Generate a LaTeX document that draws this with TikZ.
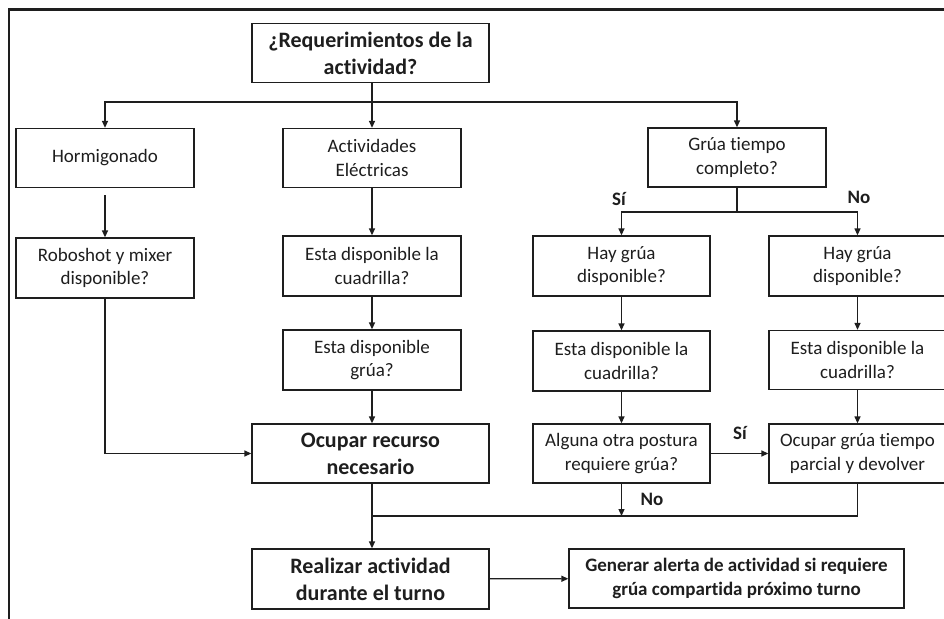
\documentclass[tikz,border=0pt]{standalone}
\usepackage{fontspec}
\setmainfont{Carlito}[RawFeature={-liga;-clig;-calt;-dlig}]
\usetikzlibrary{arrows.meta}
\definecolor{ink}{HTML}{1E1E1E}
\tikzset{
  box/.style={draw=ink, line width=1.3pt, inner sep=0pt, align=center,
    text=ink, font=\fontsize{19}{23.5}\selectfont,
    minimum width=178pt, minimum height=59pt},
  wide/.style={box, minimum width=237pt, font=\bfseries\fontsize{22}{27}\selectfont},
  lbl/.style={text=ink, inner sep=0pt, font=\bfseries\fontsize{19}{23}\selectfont},
  link/.style={draw=ink, line width=1.3pt},
  arr/.style={link, -{Triangle[length=7pt,width=6pt]}}
}
\begin{document}
\begin{tikzpicture}[x=1pt,y=-1pt]
\useasboundingbox (0,0) rectangle (944,618);
\fill[white] (0,0) rectangle (944,618);
% frame
\draw[ink, line width=2.2pt] (9,640) -- (9,9.5) -- (960,9.5);

% boxes
\node[wide] (req) at (370.5,53) {¿Requerimientos de la\\actividad?};
\node[box] (horm) at (105,158) {Hormigonado};
\node[box] (elec) at (372,158) {Actividades\\Eléctricas};
\node[box] (gtc) at (737,157.5) {Grúa tiempo\\completo?};
\node[box, minimum height=60pt] (robo) at (105,268) {Roboshot y mixer\\disponible?};
\node[box, minimum height=60pt] (cuad1) at (372,266) {Esta disponible la\\cuadrilla?};
\node[box, minimum height=60pt] (grua1) at (372,360) {Esta disponible\\grúa?};
\node[wide] (ocup) at (370.5,453.5) {Ocupar recurso\\necesario};
\node[wide, minimum height=60pt] (real) at (370.5,579) {Realizar actividad\\durante el turno};
\node[box, minimum width=177pt, minimum height=60pt] (hay1) at (621.5,266) {Hay grúa\\disponible?};
\node[box, minimum width=177pt, minimum height=60pt] (hay2) at (857.5,266) {Hay grúa\\disponible?};
\node[box, minimum width=177pt, minimum height=60pt] (cuad2) at (621.5,361) {Esta disponible la\\cuadrilla?};
\node[box, minimum width=177pt] (cuad3) at (857.5,360) {Esta disponible la\\cuadrilla?};
\node[box, minimum width=177pt] (alg) at (621.5,453.5) {Alguna otra postura\\requiere grúa?};
\node[box, minimum width=177pt] (parc) at (857.5,453.5) {Ocupar grúa tiempo\\parcial y devolver};
\node[box, minimum width=335pt, font=\bfseries\fontsize{19}{24}\selectfont] (alerta) at (736.5,578.5) {Generar alerta de actividad si requiere\\grúa compartida próximo turno};

% junction points
\coordinate (tj) at (372,102);
\coordinate (rj) at (737,212);
\coordinate (bj) at (372,516);

% connectors
\draw[arr] (req.south -| tj) -- (elec.north);
\draw[arr] (tj) -| (horm.north);
\draw[arr] (tj) -| (gtc.north);
\draw[arr, shorten <=7pt] (horm) -- (robo);
\draw[arr] (robo.south) |- (ocup.west);
\draw[arr] (elec) -- (cuad1);
\draw[arr] (cuad1) -- (grua1);
\draw[arr] (grua1.south) -- (ocup.north -| grua1.south);
\draw[link] (gtc.south) -- (rj);
\draw[arr] (rj) -| (hay1.north);
\draw[arr] (rj) -| (hay2.north);
\draw[arr] (hay1) -- (cuad2);
\draw[arr] (cuad2) -- (alg);
\draw[arr] (hay2) -- (cuad3);
\draw[arr] (cuad3) -- (parc);
\draw[arr] (alg) -- (parc);
\draw[arr] (alg.south) -- (alg.south |- bj);
\draw[link] (parc.south) |- (bj);
\draw[arr] (ocup.south -| bj) -- (real.north -| bj);
\draw[arr] (real) -- (alerta);

% branch labels
\node[lbl] (si1) at (619,199) {Sí};
\node[lbl] (no1) at (859,197) {No};
\node[lbl] (si2) at (740,433) {Sí};
\node[lbl] (no2) at (652,499) {No};
\end{tikzpicture}
\end{document}
